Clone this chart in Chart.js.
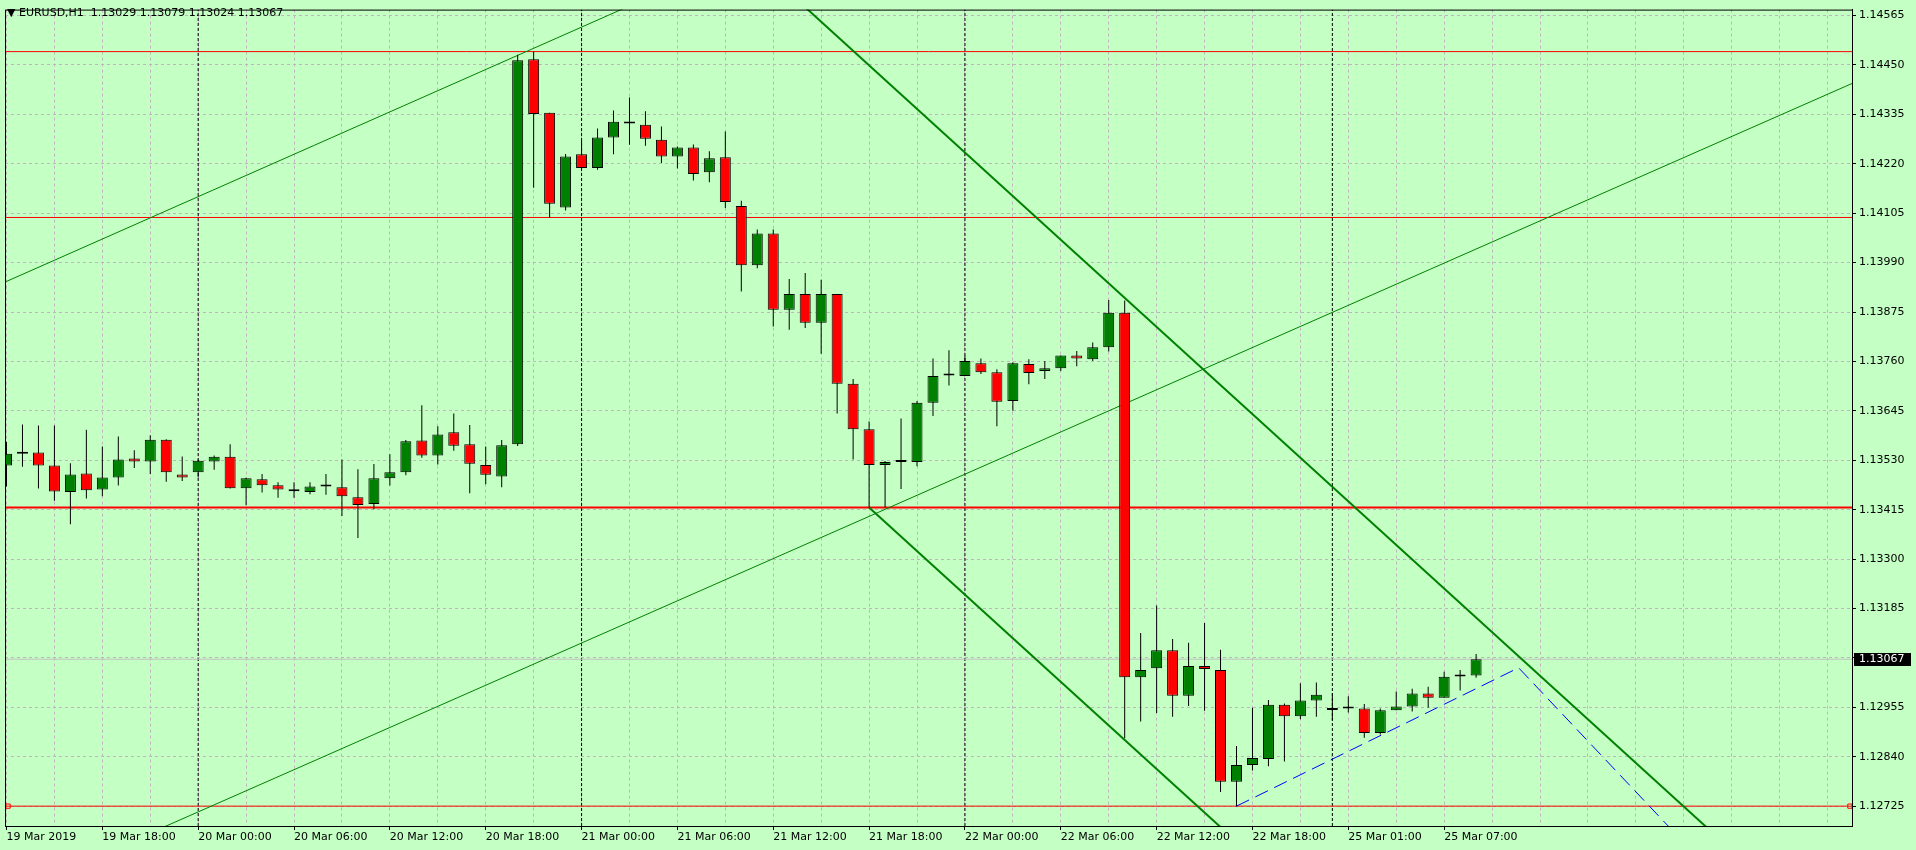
<!DOCTYPE html>
<html>
<head>
<meta charset="utf-8">
<title>EURUSD,H1</title>
<style>
  html, body { margin: 0; padding: 0; background: #c4ffc4; overflow: hidden; }
  #wrap { position: relative; width: 1916px; height: 850px; }
  #chart { display: block; }
  #hdr { position: absolute; left: 7px; top: 6px; font: 11px "DejaVu Sans"; color: #000; white-space: pre; }
</style>
<script src="https://cdn.jsdelivr.net/npm/chart.js@4.4.1/dist/chart.umd.min.js"></script>
</head>
<body>
<div id="wrap">
  <canvas id="chart" width="1916" height="850"></canvas>
  <div id="hdr">▼ EURUSD,H1  1.13029 1.13079 1.13024 1.13067</div>
</div>
<script>
// EURUSD H1 bars, 19 Mar 12:00 .. 25 Mar 09:00 (bar index 0..92)
const opens = [
  1.13518, 1.13545, 1.13548, 1.13518, 1.13456, 1.13499, 1.13462, 1.13490, 1.13534, 1.13527,
  1.13578, 1.13497, 1.13502, 1.13527, 1.13538, 1.13465, 1.13486, 1.13472, 1.13462, 1.13456,
  1.13469, 1.13467, 1.13444, 1.13428, 1.13488, 1.13502, 1.13576, 1.13541, 1.13595, 1.13567,
  1.13519, 1.13492, 1.13567, 1.14463, 1.14339, 1.14118, 1.14242, 1.14210, 1.14281, 1.14314,
  1.14311, 1.14276, 1.14237, 1.14258, 1.14200, 1.14235, 1.14122, 1.13984, 1.14058, 1.13880,
  1.13917, 1.13850, 1.13917, 1.13708, 1.13602, 1.13519, 1.13526, 1.13526, 1.13664, 1.13727,
  1.13726, 1.13756, 1.13735, 1.13668, 1.13754, 1.13738, 1.13744, 1.13774, 1.13765, 1.13793,
  1.13873, 1.13025, 1.13046, 1.13088, 1.12982, 1.13051, 1.13042, 1.12782, 1.12821, 1.12835,
  1.12961, 1.12934, 1.12971, 1.12949, 1.12952, 1.12952, 1.12895, 1.12948, 1.12957, 1.12987,
  1.12977, 1.13027, 1.13029
];
const highs = [
  1.13573, 1.13613, 1.13611, 1.13611, 1.13523, 1.13601, 1.13562, 1.13585, 1.13553, 1.13588,
  1.13579, 1.13539, 1.13532, 1.13541, 1.13567, 1.13489, 1.13498, 1.13479, 1.13479, 1.13479,
  1.13498, 1.13532, 1.13509, 1.13521, 1.13544, 1.13577, 1.13658, 1.13609, 1.13639, 1.13612,
  1.13562, 1.13577, 1.14474, 1.14481, 1.14339, 1.14243, 1.14274, 1.14302, 1.14344, 1.14374,
  1.14342, 1.14307, 1.14260, 1.14265, 1.14249, 1.14295, 1.14134, 1.14067, 1.14067, 1.13952,
  1.13966, 1.13950, 1.13917, 1.13719, 1.13620, 1.13528, 1.13627, 1.13668, 1.13767, 1.13786,
  1.13774, 1.13767, 1.13742, 1.13758, 1.13765, 1.13761, 1.13774, 1.13784, 1.13804, 1.13903,
  1.13902, 1.13128, 1.13192, 1.13114, 1.13105, 1.13151, 1.13089, 1.12865, 1.12954, 1.12972,
  1.12964, 1.13011, 1.13013, 1.12988, 1.12981, 1.12963, 1.12952, 1.12992, 1.12998, 1.13003,
  1.13038, 1.13042, 1.13079
];
const lows = [
  1.13469, 1.13515, 1.13464, 1.13436, 1.13381, 1.13441, 1.13446, 1.13471, 1.13512, 1.13498,
  1.13480, 1.13482, 1.13490, 1.13508, 1.13464, 1.13425, 1.13455, 1.13443, 1.13443, 1.13451,
  1.13450, 1.13400, 1.13349, 1.13416, 1.13471, 1.13495, 1.13536, 1.13520, 1.13552, 1.13453,
  1.13474, 1.13467, 1.13563, 1.14164, 1.14094, 1.14111, 1.14210, 1.14206, 1.14242, 1.14264,
  1.14262, 1.14222, 1.14209, 1.14181, 1.14177, 1.14117, 1.13923, 1.13977, 1.13841, 1.13834,
  1.13838, 1.13778, 1.13639, 1.13532, 1.13420, 1.13420, 1.13463, 1.13516, 1.13633, 1.13704,
  1.13726, 1.13731, 1.13609, 1.13645, 1.13707, 1.13719, 1.13738, 1.13749, 1.13761, 1.13783,
  1.12883, 1.12922, 1.12942, 1.12933, 1.12958, 1.12947, 1.12758, 1.12725, 1.12808, 1.12818,
  1.12829, 1.12927, 1.12933, 1.12925, 1.12943, 1.12884, 1.12892, 1.12948, 1.12945, 1.12954,
  1.12977, 1.12994, 1.13024
];
const closes = [
  1.13545, 1.13550, 1.13518, 1.13457, 1.13497, 1.13460, 1.13490, 1.13532, 1.13527, 1.13578,
  1.13502, 1.13490, 1.13529, 1.13538, 1.13465, 1.13488, 1.13472, 1.13462, 1.13458, 1.13469,
  1.13469, 1.13446, 1.13426, 1.13488, 1.13502, 1.13574, 1.13541, 1.13590, 1.13564, 1.13522,
  1.13496, 1.13565, 1.14461, 1.14336, 1.14127, 1.14237, 1.14210, 1.14281, 1.14318, 1.14314,
  1.14278, 1.14237, 1.14258, 1.14196, 1.14233, 1.14131, 1.13984, 1.14058, 1.13880, 1.13917,
  1.13850, 1.13917, 1.13708, 1.13602, 1.13519, 1.13526, 1.13526, 1.13664, 1.13726, 1.13727,
  1.13761, 1.13735, 1.13666, 1.13756, 1.13733, 1.13744, 1.13774, 1.13767, 1.13793, 1.13873,
  1.13025, 1.13042, 1.13088, 1.12982, 1.13051, 1.13044, 1.12782, 1.12821, 1.12837, 1.12961,
  1.12934, 1.12971, 1.12984, 1.12949, 1.12952, 1.12895, 1.12948, 1.12957, 1.12987, 1.12977,
  1.13026, 1.13027, 1.13067
];

// time axis: labels every 6 bars, weekend gap after bar 82
const labelBars = [0, 6, 12, 18, 24, 30, 36, 42, 48, 54, 60, 66, 72, 78, 84, 90];
const timeLabels = [
  '19 Mar 2019', '19 Mar 18:00', '20 Mar 00:00', '20 Mar 06:00', '20 Mar 12:00', '20 Mar 18:00',
  '21 Mar 00:00', '21 Mar 06:00', '21 Mar 12:00', '21 Mar 18:00', '22 Mar 00:00', '22 Mar 06:00',
  '22 Mar 12:00', '22 Mar 18:00', '25 Mar 01:00', '25 Mar 07:00'
];
const separatorBars = [12, 36, 60, 83]; // day starts
const priceTicks = [
  1.14565, 1.14450, 1.14335, 1.14220, 1.14105, 1.13990, 1.13875, 1.13760, 1.13645,
  1.13530, 1.13415, 1.13300, 1.13185, 1.13070, 1.12955, 1.12840, 1.12725
];
const priceMin = 1.126788, priceMax = 1.145788;
const barMin = -0.09375, barMax = 115.53125;

// chart objects (bar index, price)
const levelsThin = [1.14481, 1.14095, 1.12725];
const levelThick = 1.13420;
const lastPrice = 1.13067;
const levelAnchors = [[0.1, 1.12725], [115.4, 1.12725]];
const channelUpper = [[-5, 1.13864], [45, 1.14686]];
const channelLower = [[5, 1.12597], [120, 1.14480]];
const fallUpper = [[48, 1.14652], [110, 1.12555]];
const fallLower = [[54, 1.13420], [80, 1.12541]];
const zigzag = [[77, 1.12725], [94.66, 1.13047], [104.5, 1.12660]];

const BG = '#c4ffc4';
const GRID = '#c0b4c0';
const BULL = '#008000';
const BEAR = '#ff0000';
const FONT = { family: 'DejaVu Sans', size: 11 };

const pts = arr => arr.map(([x, y]) => ({ x, y }));
const hline = (p) => [{ x: barMin, y: p }, { x: barMax, y: p }];

function lineSet(data, color, width, extra) {
  return Object.assign({
    type: 'line', data, borderColor: color, borderWidth: width,
    pointRadius: 0, fill: false, tension: 0, order: 5
  }, extra || {});
}

const bodyColors = opens.map((o, i) => closes[i] > o ? BULL : closes[i] < o ? BEAR : '#000');

const datasets = [
  {
    type: 'bar', label: 'body', order: 0, grouped: false,
    data: opens.map((o, i) => ({ x: i, y: [o, closes[i]] })),
    backgroundColor: bodyColors, borderColor: '#000', borderWidth: 1,
    borderSkipped: false, barThickness: 11, minBarLength: 2, inflateAmount: 0
  },
  {
    type: 'bar', label: 'wick', order: 1, grouped: false,
    data: lows.map((l, i) => ({ x: i, y: [l, highs[i]] })),
    backgroundColor: '#000', borderWidth: 0, borderSkipped: false,
    barThickness: 1, inflateAmount: 0
  },
  lineSet(pts(zigzag), '#0000ff', 1, { borderDash: [14, 7], order: 2 }),
  lineSet(pts(fallUpper), BULL, 2, { order: 2 }),
  lineSet(pts(fallLower), BULL, 2, { order: 2 }),
  lineSet(pts(channelUpper), BULL, 1, { order: 3 }),
  lineSet(pts(channelLower), BULL, 1, { order: 3 }),
  lineSet(hline(levelThick), BEAR, 2, { order: 4 }),
  ...levelsThin.map(p => lineSet(hline(p), BEAR, 1, { order: 4 })),
  lineSet(pts(levelAnchors), BEAR, 1, {
    order: 4, showLine: false, pointRadius: 3, pointStyle: 'rect',
    pointBackgroundColor: BG, pointBorderColor: BEAR, pointBorderWidth: 1
  }),
  lineSet(hline(lastPrice), '#c0c0c0', 1, { order: 6 }),
  ...separatorBars.map(b => lineSet([{ x: b, y: priceMin }, { x: b, y: priceMax }], '#000', 1, {
    borderDash: [3, 2], order: 7
  }))
];

// frame around the plot and the bid label on the price scale
const mtFrame = {
  id: 'mtFrame',
  beforeDraw(chart) {
    const { ctx, width, height } = chart;
    ctx.save();
    ctx.fillStyle = BG;
    ctx.fillRect(0, 0, width, height);
    ctx.restore();
  },
  afterDraw(chart) {
    const { ctx, chartArea: a, scales: { y } } = chart;
    ctx.save();
    ctx.strokeStyle = '#000';
    ctx.lineWidth = 1;
    ctx.strokeRect(a.left + 0.5, a.top + 0.5, a.right - a.left, a.bottom - a.top);
    const py = Math.round(y.getPixelForValue(lastPrice));
    ctx.fillStyle = '#000';
    ctx.fillRect(a.right + 2, py - 6, 57, 13);
    ctx.fillStyle = '#fff';
    ctx.font = '11px "DejaVu Sans"';
    ctx.textBaseline = 'middle';
    ctx.fillText(lastPrice.toFixed(5), a.right + 7, py + 0.5);
    ctx.restore();
  }
};

new Chart(document.getElementById('chart'), {
  type: 'bar',
  data: { datasets },
  plugins: [mtFrame],
  options: {
    responsive: false,
    animation: false,
    events: [],
    layout: { padding: { left: 2, top: 1, right: 0, bottom: 0 } },
    plugins: { legend: { display: false }, tooltip: { enabled: false } },
    scales: {
      x: {
        type: 'linear', position: 'bottom', min: barMin, max: barMax,
        offset: false,
        afterFit: s => { s.height = 24; },
        afterBuildTicks: s => {
          const t = [];
          for (let v = 0; v <= barMax; v += 3) t.push({ value: v });
          s.ticks = t;
        },
        grid: {
          offset: false, color: GRID, lineWidth: 1, tickLength: 4, tickWidth: 1,
          tickColor: c => labelBars.includes(c.tick && c.tick.value) ? '#000' : 'rgba(0,0,0,0)'
        },
        border: { display: true, color: '#000', width: 1, dash: [3, 3] },
        ticks: {
          autoSkip: false, maxRotation: 0, minRotation: 0, align: 'start', padding: 1,
          color: '#000', font: FONT,
          callback: v => {
            const k = labelBars.indexOf(v);
            return k >= 0 ? timeLabels[k] : '';
          }
        }
      },
      y: {
        type: 'linear', position: 'right', min: priceMin, max: priceMax,
        afterFit: s => { s.width = 64; },
        afterBuildTicks: s => { s.ticks = priceTicks.map(v => ({ value: v })); },
        grid: { color: GRID, lineWidth: 1, tickLength: 4, tickWidth: 1, tickColor: '#000' },
        border: { display: true, color: '#000', width: 1, dash: [3, 3] },
        ticks: {
          padding: 3, color: '#000', font: FONT,
          callback: v => v.toFixed(5)
        }
      }
    }
  }
});
</script>
</body>
</html>
